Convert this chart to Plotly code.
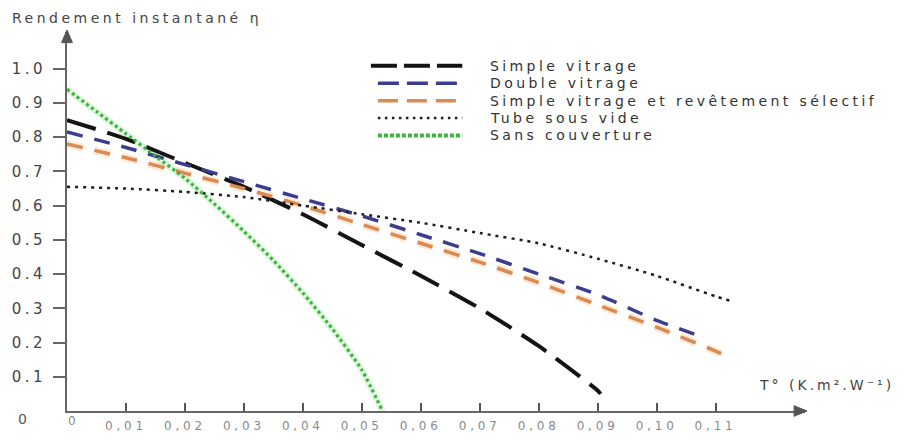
import plotly.graph_objects as go

# Reduced temperature T* (K.m².W⁻¹) and instantaneous efficiency of each collector
x_simple = [0, 0.01, 0.02, 0.03, 0.04, 0.05, 0.06, 0.07, 0.08, 0.09, 0.0905]
eta_simple = [0.85, 0.795, 0.725, 0.655, 0.575, 0.485, 0.395, 0.30, 0.19, 0.06, 0.05]

x_double = [0, 0.01, 0.02, 0.03, 0.04, 0.05, 0.06, 0.07, 0.08, 0.09, 0.10, 0.108]
eta_double = [0.815, 0.77, 0.72, 0.67, 0.62, 0.57, 0.515, 0.46, 0.40, 0.34, 0.265, 0.215]

x_selectif = [0, 0.01, 0.02, 0.03, 0.04, 0.05, 0.06, 0.07, 0.08, 0.09, 0.10, 0.11, 0.1115]
eta_selectif = [0.78, 0.74, 0.695, 0.65, 0.60, 0.545, 0.49, 0.435, 0.375, 0.31, 0.245, 0.175, 0.163]

x_tube = [0, 0.01, 0.02, 0.03, 0.04, 0.05, 0.06, 0.07, 0.08, 0.09, 0.10, 0.11, 0.1125]
eta_tube = [0.655, 0.65, 0.64, 0.625, 0.60, 0.575, 0.55, 0.52, 0.49, 0.445, 0.395, 0.335, 0.322]

x_nu = [0, 0.005, 0.01, 0.015, 0.02, 0.025, 0.03, 0.035, 0.04, 0.045, 0.05, 0.0535]
eta_nu = [0.94, 0.875, 0.81, 0.745, 0.68, 0.605, 0.525, 0.44, 0.345, 0.24, 0.12, 0.0]

series_names = [
    "Simple vitrage",
    "Double vitrage",
    "Simple vitrage et revêtement sélectif",
    "Tube sous vide",
    "Sans couverture",
]

x_ticks = [0.01, 0.02, 0.03, 0.04, 0.05, 0.06, 0.07, 0.08, 0.09, 0.10, 0.11]
x_ticklabels = ["0,01", "0,02", "0,03", "0,04", "0,05", "0,06", "0,07", "0,08", "0,09", "0,10", "0,11"]
y_ticks = [0.1, 0.2, 0.3, 0.4, 0.5, 0.6, 0.7, 0.8, 0.9, 1.0]
y_ticklabels = ["0.1", "0.2", "0.3", "0.4", "0.5", "0.6", "0.7", "0.8", "0.9", "1.0"]

# ---- frame geometry (pixels) ----
W_FIG, H_FIG = 909, 445
L, R, T, B = 62, 805, 32, 424
X_SCALE = 5936.0   # px per unit of T*
Y_SCALE = 354.0    # px per unit of efficiency
x_max = (R - L) / X_SCALE
y_max = (B - T) / Y_SCALE

FONT = "DejaVu Sans"


def px(xp):
    return (xp - L) / (R - L)


def py(yp):
    return (B - yp) / (B - T)


def spaced(s, ls):
    return f'<span style="letter-spacing:{ls}px">{s}</span>'


styles = [
    dict(color="#141414", width=4, dash="30px,12px"),
    dict(color="#3b3d8e", width=3.5, dash="16px,12px"),
    dict(color="#dc8a52", width=3.5, dash="16px,12px"),
    dict(color="#1e1e1e", width=2.5, dash="3px,5px"),
    dict(color="#3cb43c", width=3.2, dash="3px,3px"),
]

fig = go.Figure()

# soft halos under the orange and green curves
fig.add_trace(go.Scatter(x=x_selectif, y=eta_selectif, mode="lines", hoverinfo="skip",
                         line=dict(color="rgba(250,195,150,0.35)", width=8, dash="16px,12px",
                                   shape="spline", smoothing=0.6),
                         showlegend=False))
fig.add_trace(go.Scatter(x=x_nu, y=eta_nu, mode="lines", hoverinfo="skip",
                         line=dict(color="rgba(120,215,120,0.22)", width=7,
                                   shape="spline", smoothing=0.6),
                         showlegend=False))

data = [(x_simple, eta_simple), (x_double, eta_double), (x_selectif, eta_selectif),
        (x_tube, eta_tube), (x_nu, eta_nu)]
for (xs, ys), name, st in zip(data, series_names, styles):
    fig.add_trace(go.Scatter(x=xs, y=ys, mode="lines", name=name,
                             line=dict(**st, shape="spline", smoothing=0.6),
                             showlegend=False))

shapes = []
annotations = []

# hand-made legend: long line samples followed by the labels
leg_rows = [67, 85, 103, 121, 139]
leg_dash = ["26px,7px", "21px,8px", "20px,9px", "2.5px,4.5px", "4px,2px"]
leg_width = [4, 3.5, 3.5, 2.5, 4]
leg_x0 = [368, 375, 375, 375, 375]
for i, yrow in enumerate(leg_rows):
    shapes.append(dict(type="line", xref="paper", yref="paper",
                       x0=px(leg_x0[i]), x1=px(460), y0=py(yrow), y1=py(yrow),
                       line=dict(color=styles[i]["color"], width=leg_width[i], dash=leg_dash[i])))
    annotations.append(dict(xref="paper", yref="paper", x=px(486), y=py(yrow),
                            xanchor="left", yanchor="middle", showarrow=False,
                            text=spaced(series_names[i], 3.4),
                            font=dict(family=FONT, size=14, color="#333333")))

# axis arrow heads
ah_len, ah_half = 13, 5.5
shapes.append(dict(type="path", xref="paper", yref="paper", fillcolor="#555555",
                   line=dict(color="#555555", width=1),
                   path=f"M {px(R + 2)} {py(B)} L {px(R + 2 - ah_len)} {py(B - ah_half)} "
                        f"L {px(R + 2 - ah_len)} {py(B + ah_half)} Z"))
shapes.append(dict(type="path", xref="paper", yref="paper", fillcolor="#555555",
                   line=dict(color="#555555", width=1),
                   path=f"M {px(L)} {py(T - 2)} L {px(L - ah_half)} {py(T - 2 + ah_len)} "
                        f"L {px(L + ah_half)} {py(T - 2 + ah_len)} Z"))

# axis titles and origin labels
annotations.append(dict(xref="paper", yref="paper", x=px(5), y=py(18), xanchor="left",
                        yanchor="middle", showarrow=False,
                        text=spaced("Rendement instantané η", 3.5),
                        font=dict(family=FONT, size=14, color="#444444")))
annotations.append(dict(xref="paper", yref="paper", x=px(757), y=py(397), xanchor="left",
                        yanchor="middle", showarrow=False,
                        text=spaced("T° (K.m².W⁻¹)", 3),
                        font=dict(family=FONT, size=14, color="#444444")))
annotations.append(dict(xref="paper", yref="paper", x=px(17), y=py(432), xanchor="center",
                        yanchor="middle", showarrow=False, text="0",
                        font=dict(family=FONT, size=14, color="#555555")))
annotations.append(dict(xref="paper", yref="paper", x=px(67), y=py(434), xanchor="center",
                        yanchor="middle", showarrow=False, text="0",
                        font=dict(family=FONT, size=12, color="#8a8a8a")))

fig.update_layout(
    width=W_FIG, height=H_FIG,
    margin=dict(l=L, r=W_FIG - R, t=T, b=H_FIG - B, pad=0),
    paper_bgcolor="white", plot_bgcolor="white",
    showlegend=False,
    shapes=shapes, annotations=annotations,
    xaxis=dict(range=[0, x_max], showgrid=False, zeroline=False,
               showline=True, linecolor="#666666", linewidth=2,
               tickmode="array", tickvals=x_ticks,
               ticktext=[spaced(t, 3.8) for t in x_ticklabels],
               ticks="inside", ticklen=8, tickwidth=2, tickcolor="#555555",
               ticklabelstandoff=3,
               tickfont=dict(family=FONT, size=12, color="#8a8a8a")),
    yaxis=dict(range=[0, y_max], showgrid=False, zeroline=False,
               showline=True, linecolor="#666666", linewidth=2,
               tickmode="array", tickvals=y_ticks,
               ticktext=[spaced(t, 3.5) for t in y_ticklabels],
               ticks="outside", ticklen=12, tickwidth=1.5, tickcolor="#666666",
               ticklabelstandoff=4,
               tickfont=dict(family=FONT, size=15, color="#444444")),
)

fig.write_html("out.html")
